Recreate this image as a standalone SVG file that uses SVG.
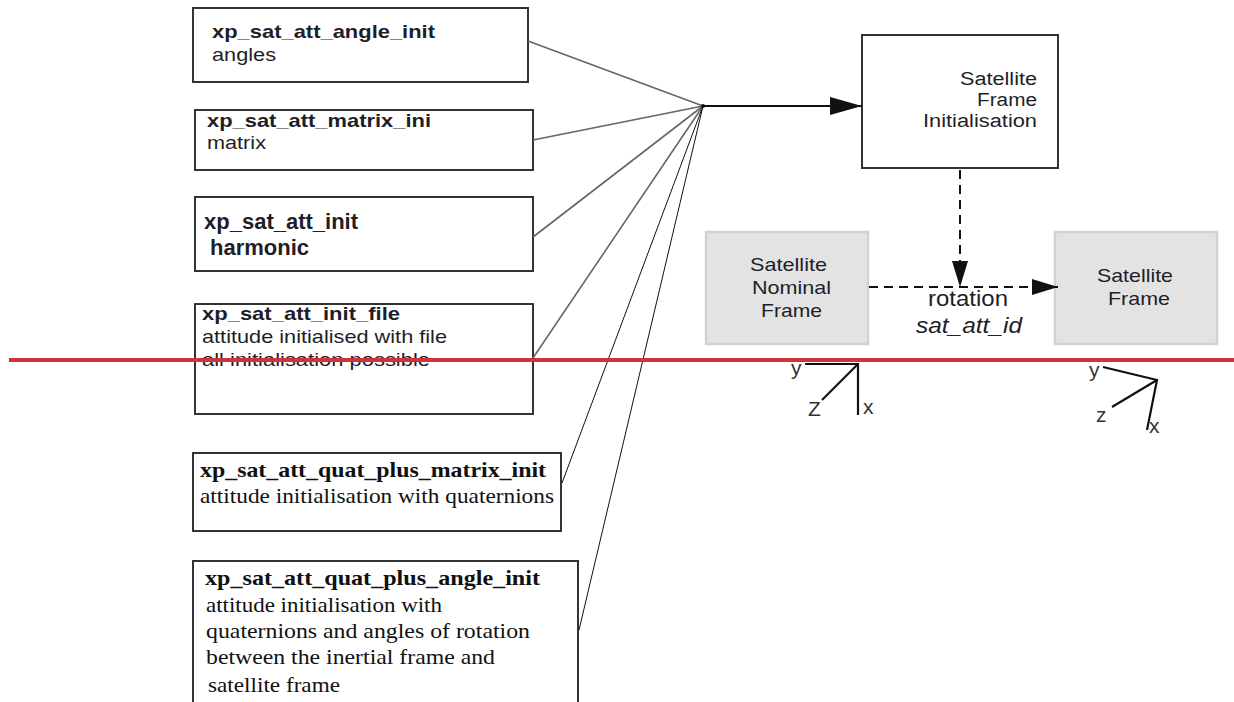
<svg xmlns="http://www.w3.org/2000/svg" width="1234" height="702" viewBox="0 0 1234 702">
<style>
.box{fill:#fff;stroke:#333;stroke-width:2}
.gbox{fill:#e3e3e3;stroke:#d2d2d2;stroke-width:2.5}
.s{font-family:"Liberation Sans",Arial,sans-serif;font-size:19px;fill:#1e1e28}
.l{font-size:22px}
.sm{font-size:18px}
.r{font-size:22px}
.b{font-weight:bold}
.t{font-family:"Liberation Serif","Times New Roman",serif;font-size:22px;fill:#111}
.fan{stroke:#666;stroke-width:1.6;fill:none}
.fan2{stroke:#111;stroke-width:1;fill:none}
.dash{stroke:#111;stroke-width:2;stroke-dasharray:9,6;fill:none}
.ax{stroke:#111;stroke-width:2.2;fill:none}
.al{font-family:"Liberation Sans",Arial,sans-serif;font-size:21px;fill:#333}
.c{text-anchor:middle}
.e{text-anchor:end}
</style>
<defs>
<marker id="ah" markerWidth="32" markerHeight="18" refX="32" refY="9" orient="auto" markerUnits="userSpaceOnUse">
<path d="M0,0 L32,9 L0,18 Z" fill="#111"/>
</marker>
<marker id="ah2" markerWidth="26" markerHeight="16" refX="26" refY="8" orient="auto" markerUnits="userSpaceOnUse">
<path d="M0,0 L26,8 L0,16 Z" fill="#111"/>
</marker>
</defs>

<g id="n-angle">
<rect class="box" x="193" y="8" width="335" height="74"/>
<text class="s b" x="212" y="38" textLength="223" lengthAdjust="spacingAndGlyphs">xp_sat_att_angle_init</text>
<text class="s" x="212" y="61" textLength="64" lengthAdjust="spacingAndGlyphs">angles</text>
</g>
<g id="n-matrix">
<rect class="box" x="195" y="110" width="338" height="60"/>
<text class="s b" x="207" y="127" textLength="224" lengthAdjust="spacingAndGlyphs">xp_sat_att_matrix_ini</text>
<text class="s" x="207" y="149" textLength="59" lengthAdjust="spacingAndGlyphs">matrix</text>
</g>
<g id="n-init">
<rect class="box" x="195" y="197" width="338" height="74"/>
<text class="s l b" x="204" y="229">xp_sat_att_init</text>
<text class="s l b" x="210" y="255">harmonic</text>
</g>
<g id="n-file">
<rect class="box" x="195" y="304" width="338" height="110"/>
<text class="s b" x="202" y="320" textLength="198" lengthAdjust="spacingAndGlyphs">xp_sat_att_init_file</text>
<text class="s" x="202" y="343" textLength="245" lengthAdjust="spacingAndGlyphs">attitude initialised with file</text>
<text class="s" x="202" y="366" textLength="228" lengthAdjust="spacingAndGlyphs">all initialisation possible</text>
</g>
<g id="n-quatmatrix">
<rect class="box" x="193" y="453" width="368" height="78"/>
<text class="t b" x="200" y="477" textLength="346" lengthAdjust="spacingAndGlyphs">xp_sat_att_quat_plus_matrix_init</text>
<text class="t" x="200" y="503" textLength="354" lengthAdjust="spacingAndGlyphs">attitude initialisation with quaternions</text>
</g>
<g id="n-quatangle">
<rect class="box" x="193" y="561" width="385" height="150"/>
<text class="t b" x="205" y="585" textLength="335" lengthAdjust="spacingAndGlyphs">xp_sat_att_quat_plus_angle_init</text>
<text class="t" x="206" y="612" textLength="236" lengthAdjust="spacingAndGlyphs">attitude initialisation with</text>
<text class="t" x="206" y="638" textLength="324" lengthAdjust="spacingAndGlyphs">quaternions and angles of rotation</text>
<text class="t" x="206" y="664" textLength="289" lengthAdjust="spacingAndGlyphs">between the inertial frame and</text>
<text class="t" x="208" y="692" textLength="132" lengthAdjust="spacingAndGlyphs">satellite frame</text>
</g>
<g id="n-sfi">
<rect class="box" x="862" y="35" width="196" height="133"/>
<text class="s sm" x="960" y="85" textLength="77" lengthAdjust="spacingAndGlyphs">Satellite</text>
<text class="s sm" x="977" y="106" textLength="60" lengthAdjust="spacingAndGlyphs">Frame</text>
<text class="s sm" x="923" y="127" textLength="114" lengthAdjust="spacingAndGlyphs">Initialisation</text>
</g>
<g id="n-nominal">
<rect class="gbox" x="706" y="232" width="162" height="112"/>
<text class="s" x="750" y="271" textLength="77" lengthAdjust="spacingAndGlyphs">Satellite</text>
<text class="s" x="752" y="294" textLength="79" lengthAdjust="spacingAndGlyphs">Nominal</text>
<text class="s" x="761" y="317" textLength="61" lengthAdjust="spacingAndGlyphs">Frame</text>
</g>
<g id="n-satframe">
<rect class="gbox" x="1055" y="232" width="162" height="112"/>
<text class="s" x="1097" y="282" textLength="76" lengthAdjust="spacingAndGlyphs">Satellite</text>
<text class="s" x="1108" y="305" textLength="62" lengthAdjust="spacingAndGlyphs">Frame</text>
</g>

<g id="connectors">
<line class="fan" x1="528" y1="41" x2="703" y2="106"/>
<line class="fan" x1="533" y1="140" x2="703" y2="106"/>
<line class="fan" x1="533" y1="237" x2="703" y2="106"/>
<line class="fan" x1="533" y1="358" x2="703" y2="106"/>
<line class="fan2" x1="562" y1="483" x2="703" y2="106"/>
<line class="fan2" x1="579" y1="630" x2="703" y2="106"/>
<circle cx="703" cy="106" r="2" fill="#111"/>
<line x1="703" y1="106" x2="862" y2="106" stroke="#111" stroke-width="2" marker-end="url(#ah)"/>
<line class="dash" x1="960" y1="170" x2="960" y2="287" marker-end="url(#ah2)"/>
<line class="dash" x1="869" y1="287" x2="1058" y2="287" marker-end="url(#ah2)"/>
<text class="s r" x="928" y="306" textLength="80" lengthAdjust="spacingAndGlyphs">rotation</text>
<text class="s r" x="916" y="333" style="font-style:italic" textLength="106" lengthAdjust="spacingAndGlyphs">sat_att_id</text>
</g>

<g id="axes-left">
<polyline class="ax" points="805,364 858,364 858,415"/>
<line class="ax" x1="858" y1="364" x2="822" y2="400"/>
<text class="al" x="791" y="375">y</text>
<text class="al" x="808" y="416">Z</text>
<text class="al" x="863" y="414">x</text>
</g>
<g id="axes-right">
<polyline class="ax" points="1103,367 1157,380 1147,430"/>
<line class="ax" x1="1157" y1="380" x2="1112" y2="407"/>
<text class="al" x="1089" y="377">y</text>
<text class="al" x="1096" y="422">z</text>
<text class="al" x="1149" y="433">x</text>
</g>

<line id="red-rule" x1="9" y1="360" x2="1234" y2="360" stroke="#d0343b" stroke-width="4"/>
</svg>
